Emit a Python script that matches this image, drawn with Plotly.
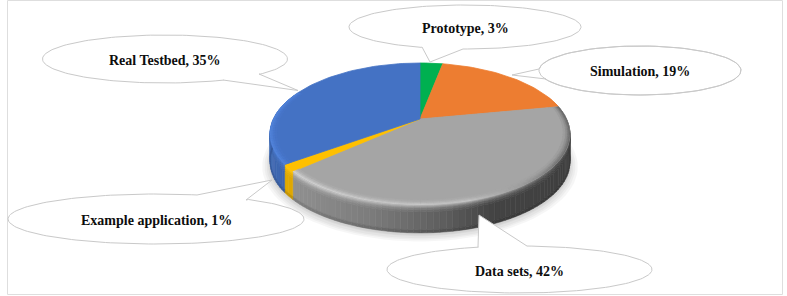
import numpy as np
import plotly.graph_objects as go

# ---- data (clockwise from 12 o'clock) ----
categories = ["Prototype", "Simulation", "Data sets", "Example application", "Real Testbed"]
shown_percent = [3, 19, 42, 1, 35]        # as printed in the callouts
slice_share = [3, 19, 41.4, 1.6, 35]      # as drawn (read from the slice boundaries)
colors = ["#00B050", "#ED7D31", "#A5A5A5", "#FFC000", "#4472C4"]

# ---- pie projection ----
APEX_X, APEX_Y = 420.0, 119.0
SX, SY, PERSP = 146.6, 67.8, 0.211
DEPTH = 28.0


def project(theta, r=1.0, drop=0.0):
    X, Y = r * np.sin(theta), r * np.cos(theta)
    d = 1 + PERSP * Y
    return APEX_X + SX * X / d, APEX_Y - SY * Y / d + drop


def rgb(c):
    return np.array([int(c[i:i + 2], 16) for i in (1, 3, 5)], float)


def css(v):
    v = np.clip(v, 0, 255).round().astype(int)
    return f"rgb({v[0]},{v[1]},{v[2]})"


fig = go.Figure()


def poly(x, y, fill, line=None, width=0.5):
    fig.add_trace(go.Scatter(
        x=list(x), y=list(y), mode="lines", fill="toself", fillcolor=fill,
        line=dict(color=line or fill, width=width), hoverinfo="skip", showlegend=False))


# frame
fig.add_shape(type="rect", x0=7.5, x1=782.5, y0=0.5, y1=294.5,
              line=dict(color="#dedede", width=1), fillcolor="white", layer="below")

# soft shadow under the pie
tt = np.linspace(0, 2 * np.pi, 120)
for grow, dy in [(1.05, 31), (1.035, 31), (1.022, 31), (1.012, 30), (1.004, 30)]:
    sx, sy = project(tt, grow, dy)
    poly(sx, sy, "rgba(0,0,0,0.035)", line="rgba(0,0,0,0)", width=0)

edges = np.cumsum([0] + slice_share) / 100 * 2 * np.pi
SIDE_X = [265, 295, 370, 450, 490, 575]
SIDE_F = [0.92, 0.87, 0.75, 0.55, 0.41, 0.38]
STRIPS = [(0, 1.5, 0.70), (1.5, 3, 0.45), (3, 5, 0.22), (5, 7, 0.08), (7, 25, 0.0), (25, DEPTH, -0.12)]


def rim_colour(th):
    mix = np.interp(np.degrees(th), [85, 125, 165, 235, 300], [0, 0.12, 0.85, 1, 1])
    return (1 - mix) * np.array([85.0, 85, 85]) + mix * np.array([225.0, 225, 225])


# side wall
for i, c in enumerate(colors):
    a, b = edges[i], edges[i + 1]
    lo, hi = max(a, np.radians(70)), min(b, np.radians(292))
    if lo >= hi:
        continue
    n = max(1, int(np.degrees(hi - lo) / 2))
    base = rgb(c)
    marks = np.linspace(lo, hi, n + 1)
    for j in range(n):
        t0, t1 = marks[j], marks[j + 1]
        xm = project((t0 + t1) / 2)[0]
        f = np.interp(xm, SIDE_X, SIDE_F)
        face = base * f
        for d0, d1, glow in STRIPS:
            if glow >= 0:
                col = face * (1 - glow) + (rim_colour((t0 + t1) / 2) if c == "#A5A5A5" else base * 1.1) * glow
            else:
                col = face * (1 + glow)
            x0, y0 = project(t0, 1, d0)
            x1, y1 = project(t1, 1, d0)
            x2, y2 = project(t1, 1, d1)
            x3, y3 = project(t0, 1, d1)
            poly([x0, x1, x2, x3, x0], [y0, y1, y2, y3, y0], css(col))

# top face slices
for i, c in enumerate(colors):
    a, b = edges[i], edges[i + 1]
    th = np.linspace(a, b, max(3, int(np.degrees(b - a) / 2)))
    x, y = project(th)
    poly(np.r_[APEX_X, x, APEX_X], np.r_[APEX_Y, y, APEX_Y], c, width=0.8)

# bevel along the rim of the large front slices
BEVEL = [(0.955, 0.97, 0.10), (0.97, 0.982, 0.30), (0.982, 0.992, 0.55), (0.992, 1.0, 0.80)]
for i, c in enumerate(colors):
    if c not in ("#A5A5A5", "#4472C4"):
        continue
    a, b = edges[i], edges[i + 1]
    if c == "#4472C4":
        b = np.radians(295)
    n = int(np.degrees(b - a) / 2)
    marks = np.linspace(a, b, n + 1)
    base = rgb(c)
    for j in range(n):
        t0, t1 = marks[j], marks[j + 1]
        tm = (t0 + t1) / 2
        tint = rim_colour(tm) if c == "#A5A5A5" else np.array([85.0, 135, 225])
        for r0, r1, k in BEVEL:
            x0, y0 = project(t0, r0)
            x1, y1 = project(t1, r0)
            x2, y2 = project(t1, r1)
            x3, y3 = project(t0, r1)
            poly([x0, x1, x2, x3, x0], [y0, y1, y2, y3, y0], css(base * (1 - k) + tint * k), width=0.3)

# ---- callouts ----
# centre x, centre y, rx, ry, tail base A, tip, tail base B (pixels on the page)
callouts = {
    "Real Testbed": (165, 59, 122.5, 24, (223, 80), (298, 90.5), (259, 74)),
    "Example application": (156, 219, 148, 25, (197, 195), (272, 180), (246, 200)),
    "Prototype": (465, 27, 116, 22, (422, 47), (430, 62), (463, 49)),
    "Simulation": (640, 70.5, 101, 24.5, (539, 69), (512, 75), (546, 79)),
    "Data sets": (519.5, 269.5, 132.5, 23.5, (478, 247), (479, 215), (527, 246)),
}
label_pos = {
    "Real Testbed": (164.5, 60),
    "Example application": (156.5, 220),
    "Prototype": (465.5, 28),
    "Simulation": (640, 71),
    "Data sets": (519.5, 271),
}

for name, (cx, cy, rx, ry, A, tip, B) in callouts.items():
    a0 = np.arctan2((A[1] - cy) / ry, (A[0] - cx) / rx)
    b0 = np.arctan2((B[1] - cy) / ry, (B[0] - cx) / rx)
    gap = (b0 - a0) % (2 * np.pi)
    if gap < np.pi:
        s = np.linspace(b0, a0 + 2 * np.pi, 160)
    else:
        s = np.linspace(b0 + 2 * np.pi, a0, 160)
    ex, ey = cx + rx * np.cos(s), cy + ry * np.sin(s)
    px = np.r_[tip[0], B[0], ex, A[0], tip[0]]
    py = np.r_[tip[1], B[1], ey, A[1], tip[1]]
    poly(px, py, "white", line="#c9c9c9", width=1)

for name, val in zip(categories, shown_percent):
    lx, ly = label_pos[name]
    fig.add_annotation(x=lx, y=ly, text=f"{name}, {val}%", showarrow=False,
                       font=dict(family="Liberation Serif", size=14, color="#0d0d0d", weight="bold"),
                       xanchor="center", yanchor="middle")

fig.update_layout(
    width=787, height=296, margin=dict(l=0, r=0, t=0, b=0),
    paper_bgcolor="white", plot_bgcolor="white", showlegend=False,
    xaxis=dict(range=[0, 787], visible=False, fixedrange=True),
    yaxis=dict(range=[296, 0], visible=False, fixedrange=True),
)
fig.write_html("out.html", config={"displayModeBar": False},
               post_script="document.body.style.margin='0';document.body.style.overflow='hidden';")
